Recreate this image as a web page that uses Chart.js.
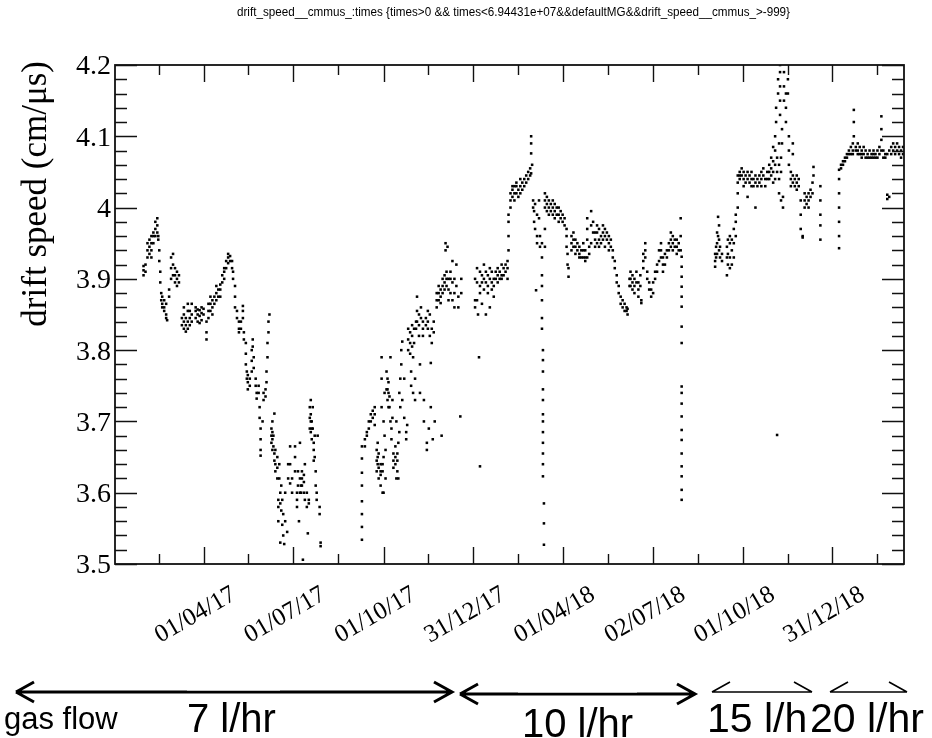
<!DOCTYPE html>
<html>
<head>
<meta charset="utf-8">
<script src="https://cdn.jsdelivr.net/npm/chart.js"></script>
<style>
  html, body { margin: 0; padding: 0; background: #fff; }
  #wrap { width: 932px; height: 738px; }
</style>
</head>
<body>
<div id="wrap"><canvas id="grafico" width="932" height="738"></canvas></div>
<script>
// Textos do gráfico
const tituloPlot = 'drift_speed__cmmus_:times {times>0 && times<6.94431e+07&&defaultMG&&drift_speed__cmmus_>-999}';
const tituloY = 'drift speed (cm/μs)';

// Eixo Y: valores e rótulos dos ticks principais
const yTicks = [3.5, 3.6, 3.7, 3.8, 3.9, 4.0, 4.1, 4.2];
const yTickLabels = ['3.5', '3.6', '3.7', '3.8', '3.9', '4', '4.1', '4.2'];

// Eixo X: datas (dd/mm/aa) dos ticks principais
const xTickLabels = ['01/04/17', '01/07/17', '01/10/17', '31/12/17', '01/04/18', '02/07/18', '01/10/18', '31/12/18'];

// Faixas de fluxo de gás (legenda de baixo)
const fluxoLabels = ['7 l/hr', '10 l/hr', '15 l/h', '20 l/hr'];

// Dados: dia desde 01/01/2017 e as velocidades lidas nesse dia (cm/us)
const diasA = [29, 31, 33, 35, 37, 39, 41, 43, 44, 45, 46, 47, 48, 50, 52, 53, 55, 57, 59, 61, 63, 65,
  68, 70, 72, 74, 76, 78, 82, 84, 86, 88, 90, 93, 95, 97, 99, 101, 103, 105, 107, 109, 111, 113, 115,
  117, 119, 120, 122, 124, 126, 128, 130, 131, 133, 134, 135, 137, 139, 140, 141, 143, 144, 146, 147,
  148, 150, 151, 153, 154, 155, 156, 157, 159, 160, 161, 162, 163, 165, 166, 167, 168, 169, 170, 171,
  172, 173, 175, 176, 178, 180, 183, 185, 186, 187, 188, 189, 190, 191, 192, 193, 195, 196, 197, 198,
  199, 200, 201, 202, 203, 204, 205, 206, 208, 209];
const velA = [[3.905, 3.912, 3.918], [3.91, 3.92], [3.93, 3.94, 3.95], [3.935, 3.945, 3.955],
  [3.93, 3.94, 3.95, 3.96], [3.95, 3.96, 3.965], [3.96, 3.97, 3.98], [3.965, 3.975, 3.985],
  [3.955, 3.96], [3.94, 3.925], [3.91, 3.895], [3.88, 3.87], [3.875, 3.865, 3.86], [3.87, 3.86, 3.855],
  [3.865, 3.85, 3.845], [3.842], [3.875, 3.885], [3.9, 3.915, 3.93], [3.935, 3.92, 3.905],
  [3.915, 3.905, 3.895], [3.91, 3.9, 3.89], [3.905, 3.895],
  [3.835, 3.845], [3.83, 3.84, 3.85, 3.86], [3.826, 3.835, 3.845], [3.83, 3.84, 3.855, 3.865],
  [3.835, 3.845, 3.855], [3.84, 3.85, 3.865], [3.845, 3.855, 3.86], [3.84, 3.85, 3.857],
  [3.838, 3.848, 3.856], [3.842, 3.852, 3.86], [3.85, 3.858], [3.815, 3.825, 3.84],
  [3.845, 3.855, 3.865], [3.855, 3.865, 3.875], [3.85, 3.86, 3.87], [3.865, 3.875], [3.87, 3.88, 3.89],
  [3.875, 3.885], [3.875, 3.885, 3.892], [3.895, 3.905], [3.9, 3.91, 3.915], [3.915, 3.925],
  [3.922, 3.93, 3.935], [3.925, 3.932], [3.915, 3.925], [3.9, 3.91], [3.89, 3.875, 3.86], [3.855, 3.845],
  [3.84, 3.83, 3.825], [3.83, 3.84], [3.845, 3.855, 3.862], [3.825, 3.815], [3.81, 3.795, 3.78],
  [3.77, 3.76], [3.765, 3.755, 3.745], [3.76, 3.75], [3.77, 3.785, 3.8], [3.805, 3.815], [3.79, 3.775],
  [3.76, 3.75], [3.74, 3.732], [3.75, 3.74], [3.72, 3.705], [3.69, 3.675, 3.66, 3.652], [3.7],
  [3.74, 3.73], [3.745, 3.735], [3.755, 3.77], [3.79, 3.81], [3.825, 3.84], [3.85],
  [3.69, 3.68, 3.67], [3.7, 3.685, 3.675, 3.66], [3.68, 3.665], [3.711, 3.655, 3.645], [3.66, 3.64, 3.63],
  [3.65, 3.635, 3.62], [3.59, 3.58, 3.56], [3.64, 3.62], [3.6, 3.585, 3.53], [3.61, 3.575], [3.59, 3.555],
  [3.57, 3.54], [3.528], [3.6, 3.56], [3.545], [3.62, 3.64], [3.665, 3.64, 3.613], [3.62, 3.6],
  [3.665, 3.65, 3.63], [3.6, 3.59, 3.58], [3.63, 3.61], [3.56], [3.67, 3.62, 3.6], [3.61, 3.6],
  [3.63, 3.62, 3.61], [3.506], [3.625, 3.615, 3.6], [3.64, 3.59], [3.6, 3.58], [3.543], [3.59, 3.585],
  [3.72, 3.705, 3.69], [3.73, 3.71, 3.7, 3.685], [3.7, 3.69, 3.675], [3.72, 3.69], [3.67, 3.66, 3.645],
  [3.68, 3.65], [3.63, 3.61], [3.6, 3.59], [3.68], [3.58, 3.57], [3.53, 3.525]];

const diasB = [251, 254, 256, 258, 260, 262, 264, 266, 267, 268, 270, 271, 272, 273, 274, 275, 276, 277,
  278, 279, 280, 281, 282, 283, 285, 286, 287, 288, 289, 290, 291, 292, 294, 296, 297, 298, 300, 301,
  302, 303, 304, 305, 306, 307, 309, 310, 311, 313, 314, 316, 317, 318, 319, 320, 321, 322, 323, 324,
  325, 327, 329, 331, 332, 333, 335, 336, 337, 338, 339, 341, 343, 345, 347, 349, 351, 352];
const velB = [[3.534, 3.552, 3.57, 3.588, 3.61, 3.628, 3.648, 3.665], [3.665, 3.675], [3.68, 3.685],
  [3.69, 3.7], [3.7, 3.71], [3.705, 3.715], [3.695, 3.71, 3.72], [3.66, 3.645, 3.63], [3.67, 3.65, 3.64],
  [3.62, 3.635, 3.655], [3.64, 3.63, 3.625, 3.61], [3.79, 3.76, 3.72], [3.64, 3.63, 3.6], [3.65, 3.7, 3.6],
  [3.68, 3.74], [3.62, 3.66], [3.77, 3.745], [3.76, 3.745, 3.73], [3.755, 3.74, 3.72], [3.735, 3.72],
  [3.79, 3.7], [3.69, 3.675], [3.73, 3.705], [3.655, 3.645, 3.635], [3.665, 3.65, 3.64], [3.7, 3.62],
  [3.655, 3.645, 3.63], [3.67, 3.62], [3.74, 3.685], [3.76, 3.72], [3.8, 3.78], [3.812, 3.73],
  [3.76, 3.705], [3.685, 3.675], [3.695], [3.83, 3.815, 3.8], [3.825, 3.81, 3.795], [3.77, 3.75],
  [3.835, 3.82, 3.805], [3.79, 3.74], [3.83, 3.81], [3.76, 3.73], [3.84, 3.83], [3.875, 3.855, 3.84],
  [3.85, 3.835, 3.82], [3.78, 3.74], [3.86, 3.845], [3.84, 3.83, 3.82], [3.73, 3.7], [3.845, 3.835],
  [3.67, 3.66], [3.855, 3.84, 3.83], [3.69], [3.85, 3.82], [3.782, 3.72], [3.83, 3.81], [3.675],
  [3.84, 3.825], [3.7], [3.88, 3.87, 3.86], [3.89, 3.88, 3.87], [3.885, 3.875, 3.866], [3.68],
  [3.9, 3.89, 3.88], [3.905, 3.895, 3.885], [3.95, 3.94], [3.91, 3.9, 3.89], [3.945], [3.9, 3.885, 3.87],
  [3.91, 3.9, 3.88], [3.925, 3.895, 3.87], [3.9, 3.88, 3.86], [3.92, 3.89], [3.875, 3.86], [3.707],
  [3.9, 3.88]];

const diasC = [366, 368, 369, 370, 371, 373, 375, 377, 379, 381, 383, 385, 387, 389, 391, 393, 395, 397,
  399, 400, 402, 404, 406, 408, 410, 412, 414, 416, 418, 420, 422, 423, 424, 425, 426, 427, 428, 429,
  431, 432, 434, 435, 436, 437, 439, 441, 443, 445, 447, 449, 451, 453, 455, 457, 459, 460, 461, 464,
  466, 468, 470, 472, 474, 476, 478, 480, 482, 484, 486, 488, 490, 492, 494, 496, 498, 500, 502, 504,
  506, 508, 510, 512, 514, 516, 518, 520, 521, 523, 524, 526, 528, 530, 532, 534, 535, 537, 539, 541,
  543, 545, 547, 549, 551, 553, 555, 557, 559, 561, 563, 565, 567, 569, 571, 573, 575, 576];
const velC = [[3.9, 3.87, 3.86], [3.915, 3.895, 3.87], [3.85], [3.79], [3.91, 3.89, 3.88, 3.637],
  [3.905, 3.895, 3.865], [3.92, 3.9, 3.885], [3.91, 3.895, 3.85], [3.905, 3.89, 3.88], [3.915, 3.9, 3.86],
  [3.91, 3.895, 3.885], [3.9, 3.89, 3.875], [3.91, 3.9], [3.915, 3.905, 3.895], [3.91, 3.9],
  [3.92, 3.905, 3.9], [3.915, 3.905], [3.92, 3.91], [3.925, 3.915, 3.9], [3.94, 3.96, 3.98, 3.99],
  [4.0, 4.01, 4.02], [4.015, 4.025, 4.03], [4.01, 4.02, 4.03], [4.02, 4.03, 4.035], [4.015, 4.025],
  [4.02, 4.03, 4.04], [4.025, 4.035], [4.03, 4.04], [4.035, 4.045], [4.04, 4.05], [4.045, 4.055],
  [4.1, 4.09, 4.076, 4.048], [4.06], [4.0, 4.01], [3.995, 3.98], [4.005, 3.97], [3.884], [3.99, 3.96, 3.95],
  [4.01, 3.985], [3.96, 3.945], [3.95, 3.93, 3.905, 3.89, 3.87, 3.845, 3.83],
  [3.8, 3.786, 3.77, 3.745, 3.73, 3.71, 3.7, 3.685, 3.67, 3.655, 3.64, 3.623], [3.585, 3.557, 3.527],
  [4.0, 4.01, 4.02, 3.97, 3.945], [3.995, 4.005, 4.015], [3.99, 4.0, 4.01], [3.995, 4.005],
  [3.99, 4.0, 4.01], [3.985, 3.995, 4.005], [3.99, 4.0], [3.98, 3.99, 4.0], [3.985, 3.995], [3.98, 3.99],
  [3.975, 3.985], [3.97, 3.96, 3.945], [3.935, 3.92], [3.915, 3.903], [3.96, 3.95, 3.94],
  [3.965, 3.955, 3.945], [3.955, 3.945, 3.935], [3.95, 3.94], [3.945, 3.935, 3.93], [3.94, 3.93],
  [3.95, 3.94, 3.93], [3.94, 3.93, 3.925], [3.985, 3.97, 3.955, 3.93], [3.945, 3.935], [3.995, 3.975, 3.95],
  [3.98, 3.965], [3.965, 3.955, 3.945], [3.975, 3.965, 3.95], [3.97, 3.955, 3.945], [3.96, 3.95],
  [3.975, 3.965, 3.955], [3.97, 3.96, 3.945], [3.965, 3.955], [3.96, 3.95, 3.94], [3.955, 3.945],
  [3.94, 3.93], [3.925, 3.915], [3.905, 3.895], [3.89, 3.88], [3.875, 3.865], [3.87, 3.86], [3.865, 3.855],
  [3.86, 3.855], [3.858, 3.85], [3.89, 3.9], [3.91, 3.9, 3.89], [3.905, 3.895, 3.885], [3.9, 3.89, 3.88],
  [3.91, 3.895], [3.895, 3.885, 3.875], [3.905, 3.89], [3.87, 3.866], [3.935, 3.925, 3.915],
  [3.95, 3.94, 3.93], [3.91, 3.9], [3.895, 3.885], [3.885, 3.875], [3.895, 3.88], [3.91, 3.9], [3.92, 3.91],
  [3.94, 3.925], [3.95, 3.94, 3.93], [3.93, 3.92, 3.91], [3.935, 3.92], [3.94, 3.93], [3.95, 3.94],
  [3.965, 3.955, 3.945], [3.96, 3.95, 3.94], [3.955, 3.945], [3.955, 3.945, 3.935], [3.95, 3.94],
  [3.985, 3.96, 3.94],
  [3.931, 3.917, 3.903, 3.889, 3.875, 3.861, 3.833, 3.81, 3.749, 3.74, 3.725, 3.707, 3.688, 3.674, 3.655, 3.637, 3.623, 3.604, 3.59]];

const diasD = [610, 611, 612, 613, 614, 615, 617, 622, 623, 625, 627, 629, 631, 633, 635, 637, 639, 641,
  643, 645, 647, 649, 651, 653, 655, 657, 659, 661, 663, 665, 667, 669, 671, 672, 673, 674, 675, 676,
  677, 678, 679, 680, 682, 684, 685, 687, 689, 691, 693, 695, 697, 699, 701, 703, 705, 707, 709, 710, 717];
const velD = [[3.935, 3.925, 3.917], [3.945, 3.93], [3.965, 3.95, 3.935], [3.987, 3.96], [3.975, 3.955, 3.94],
  [3.945, 3.93], [3.935, 3.925], [3.905, 3.93, 3.945], [3.92, 3.935, 3.955], [3.915, 3.93, 3.95, 3.96],
  [3.92, 3.94, 3.955], [3.93, 3.95, 3.97], [3.96, 3.98, 3.99], [4.0, 4.02, 4.035, 4.045], [4.05, 4.045, 4.04],
  [4.055, 4.045], [4.05, 4.04, 4.03], [4.045, 4.035], [4.05, 4.04, 4.015], [4.045, 4.035], [4.05, 4.04, 4.03],
  [4.04, 4.03], [4.045, 4.035, 4.0], [4.04, 4.03], [4.045, 4.035], [4.05, 4.04, 4.03], [4.055, 4.045],
  [4.04, 4.03], [4.05, 4.04], [4.06, 4.05, 4.04], [4.07, 4.055, 4.045], [4.085, 4.065, 4.05, 4.035],
  [4.1, 4.08, 4.06, 4.04], [4.12, 4.14], [4.07, 4.05, 3.681], [4.16, 4.18], [4.09, 4.06, 4.04, 4.02],
  [4.2, 4.19, 4.17, 4.15, 4.13], [4.07, 4.05, 4.01], [4.11, 4.09], [4.015, 4.0], [4.19, 4.17, 4.15],
  [4.16, 4.14, 4.12], [4.18, 4.16], [4.1, 4.08, 4.06], [4.05, 4.04, 4.03], [4.09, 4.075, 4.045, 4.035],
  [4.04, 4.03], [4.045, 4.035, 4.025], [4.04, 4.03], [4.01, 3.99, 3.97], [3.96, 3.958], [4.02, 4.01, 4.0],
  [4.015, 4.005], [4.02, 4.01, 4.0], [4.025, 4.015], [4.035, 4.02], [4.057, 4.045],
  [4.03, 4.01, 3.99, 3.975, 3.955]];

const diasE = [736, 738, 740, 742, 744, 746, 748, 750, 751, 753, 755, 757, 759, 761, 763, 765, 767, 769,
  771, 773, 775, 777, 779, 781, 783, 785, 787, 789, 791, 793, 795, 797, 799, 801, 803];
const velE = [[3.943, 3.96, 3.98, 4.0, 4.02, 4.04, 4.053], [4.055, 4.06], [4.06, 4.065], [4.065, 4.07],
  [4.07, 4.075], [4.075, 4.08], [4.085, 4.075], [4.09, 4.08, 4.075], [4.137, 4.12, 4.1], [4.085, 4.08],
  [4.09, 4.08, 4.075], [4.085, 4.075], [4.08, 4.075, 4.07], [4.085, 4.075], [4.08, 4.07], [4.075, 4.07],
  [4.08, 4.07], [4.075, 4.07], [4.08, 4.075, 4.07], [4.075, 4.07], [4.08, 4.07], [4.085, 4.075],
  [4.128, 4.11, 4.095, 4.08], [4.08, 4.07], [4.075, 4.07], [4.018, 4.012, 4.075], [4.015, 4.08],
  [4.085, 4.075], [4.09, 4.08], [4.085, 4.075], [4.09, 4.08], [4.085, 4.075], [4.08, 4.07], [4.085, 4.075],
  [4.08]];

// Junta tudo em pontos {x, y} para o gráfico de dispersão
const pontos = [];
[[diasA, velA], [diasB, velB], [diasC, velC], [diasD, velD], [diasE, velE]].forEach(([dias, vels]) => {
  dias.forEach((d, i) => vels[i].forEach(v => pontos.push({ x: d, y: v })));
});

// Converte 'dd/mm/aa' em dias desde 01/01/2017
function diaDe(txt) {
  const [dd, mm, aa] = txt.split('/').map(Number);
  return (Date.UTC(2000 + aa, mm - 1, dd) - Date.UTC(2017, 0, 1)) / 86400000;
}

// Plugin que desenha a moldura, os ticks e os textos no estilo ROOT
const eixosRoot = {
  id: 'eixosRoot',
  afterDraw(chart) {
    const ctx = chart.ctx;
    const a = chart.chartArea;
    const sx = chart.scales.x, sy = chart.scales.y;
    ctx.save();
    ctx.strokeStyle = '#111';
    ctx.fillStyle = '#000';

    // moldura
    ctx.lineWidth = 1.8;
    ctx.strokeRect(a.left, a.top, a.right - a.left, a.bottom - a.top);

    // ticks do eixo Y (esquerda e direita)
    ctx.lineWidth = 1.4;
    ctx.beginPath();
    for (let i = 0; i < yTicks.length; i++) {
      for (let k = 0; k < 5; k++) {
        if (i === yTicks.length - 1 && k > 0) break;
        const py = Math.round(sy.getPixelForValue(yTicks[i] + k * 0.02)) + 0.5;
        const len = k === 0 ? 22 : 12;
        ctx.moveTo(a.left, py); ctx.lineTo(a.left + len, py);
        ctx.moveTo(a.right, py); ctx.lineTo(a.right - len, py);
      }
    }
    ctx.stroke();

    // ticks do eixo X (baixo e cima)
    const maiores = xTickLabels.map(diaDe);
    const passo = (maiores[maiores.length - 1] - maiores[0]) / (maiores.length - 1);
    const menores = [maiores[0] - passo / 2].concat(maiores.map(d => d + passo / 2));
    ctx.beginPath();
    const tickX = (d, len) => {
      if (d < sx.min || d > sx.max) return;
      const px = Math.round(sx.getPixelForValue(d)) + 0.5;
      ctx.moveTo(px, a.bottom); ctx.lineTo(px, a.bottom - len);
      ctx.moveTo(px, a.top); ctx.lineTo(px, a.top + len);
    };
    maiores.forEach(d => tickX(d, 17));
    menores.forEach(d => tickX(d, 10));
    ctx.stroke();

    // rótulos do eixo Y
    ctx.font = '28px "Liberation Serif", "Times New Roman", serif';
    ctx.textAlign = 'right';
    ctx.textBaseline = 'middle';
    yTicks.forEach((v, i) => ctx.fillText(yTickLabels[i], 111, sy.getPixelForValue(v) + 2));

    // rótulos do eixo X (inclinados)
    ctx.font = '25px "Liberation Serif", "Times New Roman", serif';
    ctx.textAlign = 'center';
    maiores.forEach((d, i) => {
      ctx.save();
      ctx.translate(sx.getPixelForValue(d) - 8, 615);
      ctx.rotate(-Math.PI / 6);
      ctx.fillText(xTickLabels[i], 0, 0);
      ctx.restore();
    });

    // título do eixo Y, alinhado ao topo como no ROOT
    ctx.save();
    ctx.font = '35px "Liberation Serif", "Times New Roman", serif';
    ctx.translate(37, a.top - 4);
    ctx.rotate(-Math.PI / 2);
    ctx.textAlign = 'right';
    ctx.fillText(tituloY, 0, 0);
    ctx.restore();

    // título do gráfico (fonte estreita)
    ctx.save();
    ctx.font = '12px "Liberation Sans", Arial, sans-serif';
    ctx.textAlign = 'left';
    const w = ctx.measureText(tituloPlot).width;
    ctx.translate(237, 13);
    ctx.scale(553 / w, 1);
    ctx.fillText(tituloPlot, 0, 0);
    ctx.restore();

    // setas do fluxo de gás
    const seta = (x1, x2, y, lw, dupla) => {
      ctx.lineWidth = lw;
      ctx.beginPath();
      ctx.moveTo(x1, y); ctx.lineTo(x2, y);
      ctx.moveTo(x1 + 18, y - 10); ctx.lineTo(x1, y);
      ctx.moveTo(x2 - 18, y - 10); ctx.lineTo(x2, y);
      if (dupla) {
        ctx.lineTo(x2 - 18, y + 10);
        ctx.moveTo(x1, y); ctx.lineTo(x1 + 18, y + 10);
      }
      ctx.stroke();
    };
    ctx.strokeStyle = '#000';
    seta(16, 452, 692, 3, true);
    seta(460, 695, 694, 3, true);
    seta(712, 812, 692, 1.6, false);
    seta(830, 907, 692, 1.6, false);
    ctx.fillStyle = '#fff';
    ctx.fillRect(187, 689, 93, 1.5);
    ctx.fillRect(518, 691, 119, 1.5);

    ctx.fillStyle = '#000';
    ctx.textAlign = 'left';
    ctx.textBaseline = 'alphabetic';
    ctx.font = '31px "Liberation Sans", Arial, sans-serif';
    ctx.fillText('gas flow', 4, 729);
    ctx.font = '40px "Liberation Sans", Arial, sans-serif';
    ctx.fillText(fluxoLabels[0], 187, 732);
    ctx.fillText(fluxoLabels[1], 522, 737);
    ctx.font = '41px "Liberation Sans", Arial, sans-serif';
    ctx.fillText(fluxoLabels[2], 707, 732);
    ctx.fillText(fluxoLabels[3], 810, 732);
    ctx.restore();
  }
};

new Chart(document.getElementById('grafico'), {
  type: 'scatter',
  data: {
    datasets: [{
      data: pontos,
      pointStyle: 'rect',
      pointRadius: 1.8,
      backgroundColor: '#000',
      borderWidth: 0
    }]
  },
  options: {
    responsive: false,
    animation: false,
    devicePixelRatio: 1,
    events: [],
    layout: { padding: { left: 115, top: 65, right: 28, bottom: 174 } },
    plugins: { legend: { display: false }, tooltip: { enabled: false } },
    scales: {
      x: { type: 'linear', min: 0, max: 802, display: false },
      y: { min: 3.5, max: 4.2, display: false }
    }
  },
  plugins: [eixosRoot]
});
</script>
</body>
</html>
